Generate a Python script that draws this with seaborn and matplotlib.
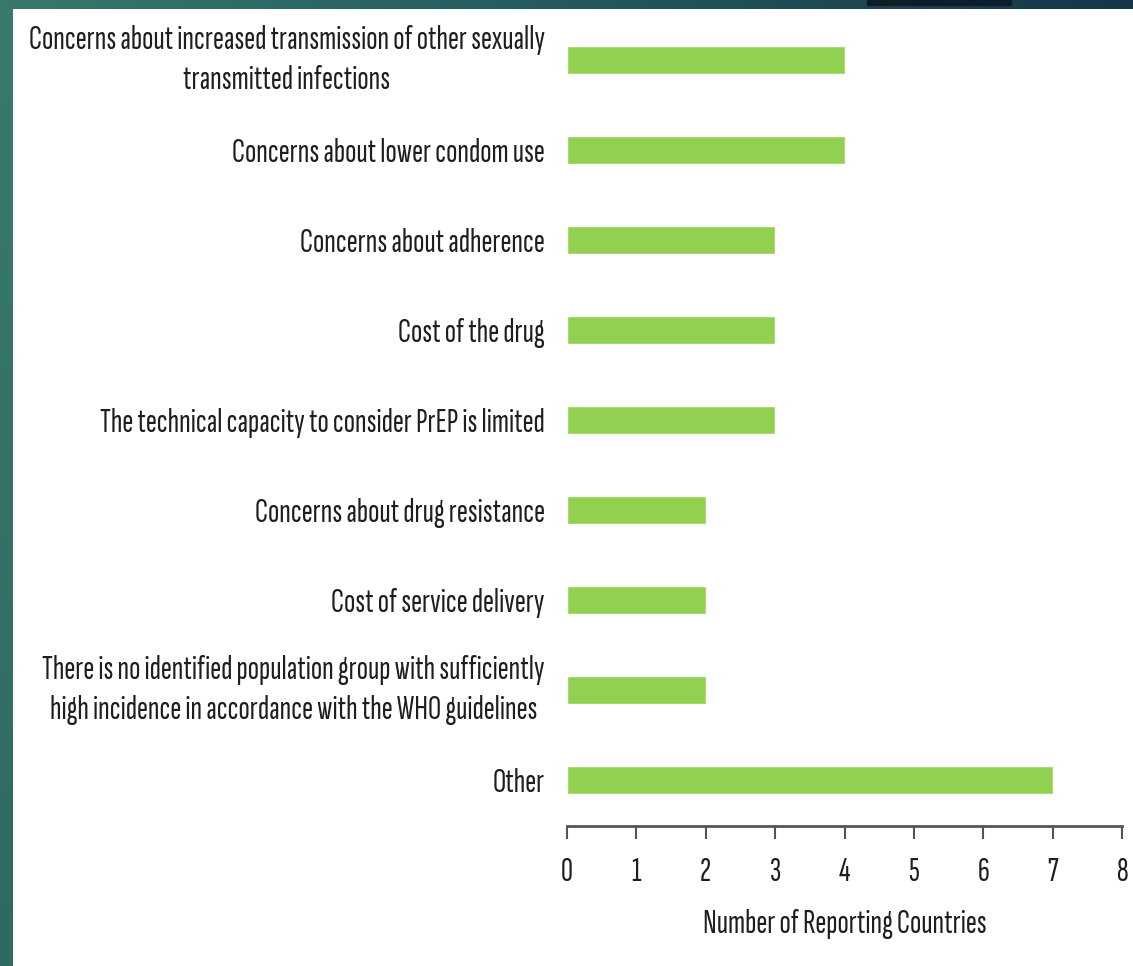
import numpy as np
import pandas as pd
import matplotlib
matplotlib.use("Agg")
import matplotlib.pyplot as plt
import seaborn as sns
from matplotlib.patches import Rectangle
from matplotlib.colors import LinearSegmentedColormap

categories = [
    "Concerns about increased transmission of other sexually\ntransmitted infections",
    "Concerns about lower condom use",
    "Concerns about adherence",
    "Cost of the drug",
    "The technical capacity to consider PrEP is limited",
    "Concerns about drug resistance",
    "Cost of service delivery",
    "There is no identified population group with sufficiently\nhigh incidence in accordance with the WHO guidelines",
    "Other",
]
values = [4, 4, 3, 3, 3, 2, 2, 2, 7]
x_ticks = [0, 1, 2, 3, 4, 5, 6, 7, 8]
x_label = "Number of Reporting Countries"

df = pd.DataFrame({"reason": categories, "count": values})

sns.set_theme(style="white")
plt.rcParams["font.family"] = ["Sofia Sans Extra Condensed", "DejaVu Sans"]
plt.rcParams["font.weight"] = "medium"

FS = 24
TXT = "#1e1e1e"
W, H = 1133, 966
fig = plt.figure(figsize=(W / 100, H / 100), dpi=100, facecolor="white")

# slide frame decoration (teal gradient band on top and left)
top_ax = fig.add_axes([0, 1 - 9 / H, 1, 9 / H])
grad = np.linspace(0, 1, 256).reshape(1, -1)
cm = LinearSegmentedColormap.from_list("band", ["#3a786c", "#245a5e", "#153748"])
top_ax.imshow(grad, aspect="auto", cmap=cm, extent=[0, 1, 0, 1])
top_ax.add_patch(Rectangle((867 / W, 0.45), (1011 - 867) / W, 0.55, color="#0e1e28"))
top_ax.set_xlim(0, 1); top_ax.set_ylim(0, 1)
top_ax.axis("off")
left_ax = fig.add_axes([0, 0, 13 / W, 1 - 9 / H])
gradv = np.linspace(0, 1, 256).reshape(-1, 1)
cmv = LinearSegmentedColormap.from_list("bandv", ["#2f6a62", "#3a7a6e"])
left_ax.imshow(gradv, aspect="auto", cmap=cmv, extent=[0, 1, 0, 1], origin="lower")
left_ax.axis("off")

ax = fig.add_axes([567 / W, 1 - 826 / H, (1122 - 567) / W, (826 - 15) / H])
sns.barplot(data=df, x="count", y="reason", orient="h", color="#92D050",
            width=0.31, saturation=1, ax=ax)

ax.set_xlim(0, 8)
ax.set_ylim(8.51, -0.5)
ax.set_xticks(x_ticks)
ax.set_xticklabels([str(t) for t in x_ticks], fontsize=FS, color=TXT)
ax.set_xlabel(x_label, fontsize=FS, color=TXT, labelpad=16)
ax.set_ylabel("")
ax.tick_params(axis="y", length=0, pad=16, labelsize=FS, labelcolor=TXT)
for lbl in ax.get_yticklabels():
    lbl.set_multialignment("center")
    lbl.set_linespacing(1.4)
    if "\n" in lbl.get_text():
        lbl.set_verticalalignment("center")
ax.tick_params(axis="x", direction="out", length=9, width=1.5, color="#555555",
               pad=13, bottom=True)
for s in ["left", "right", "top"]:
    ax.spines[s].set_visible(False)
ax.spines["bottom"].set_color("#555555")
ax.spines["bottom"].set_linewidth(2)
ax.set_facecolor("white")

fig.savefig("out.png", dpi=100, facecolor="white")
